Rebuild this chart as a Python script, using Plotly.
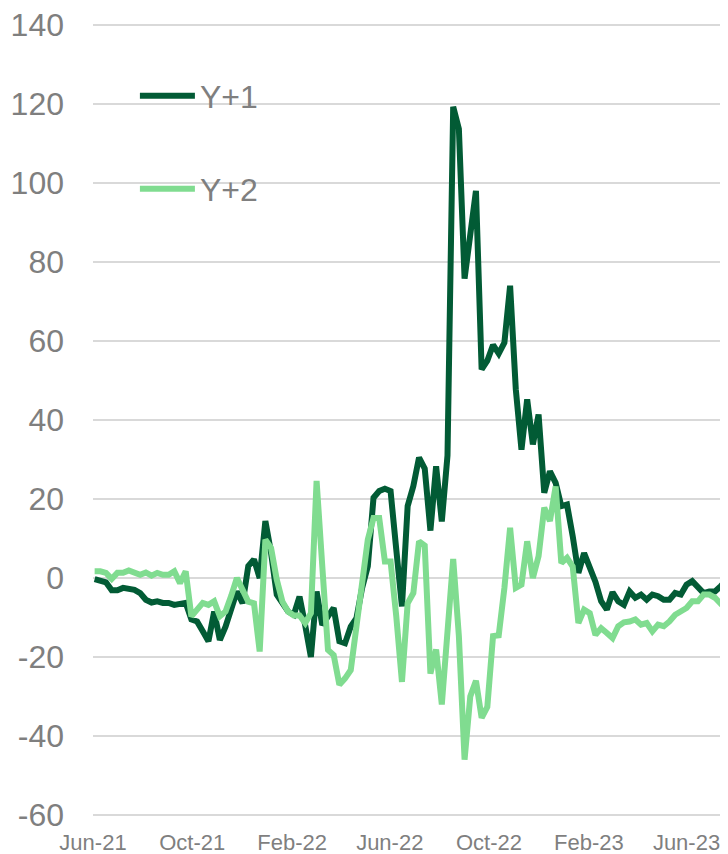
import pandas as pd
import plotly.graph_objects as go

# Weekly values
y_plus_1 = [-0.3, -0.8, -1.1, -3.1, -3.1, -2.5, -2.8, -3.0, -3.8, -5.5,
            -6.2, -5.9, -6.3, -6.3, -6.8, -6.5, -6.3, -10.5, -11.0, -13.5,
            -16.0, -8.5, -15.7, -12.3, -8.0, -3.4, -6.4, 3.0, 4.7, 0.0,
            14.4, 6.4, -4.2, -6.4, -8.5, -9.3, -4.7, -12.0, -20.0, -3.4,
            -11.9, -9.7, -7.6, -16.0, -16.5, -12.3, -10.2, -2.5, 3.0, 20.3,
            22.0, 22.6, 22.0, 7.2, -7.2, 18.2, 23.3, 30.5, 27.7, 12.0,
            28.3, 14.3, 31.0, 119.3, 113.7, 75.8, 87.0, 98.0, 52.8, 55.0,
            59.0, 56.8, 59.6, 74.0, 47.8, 32.5, 45.2, 33.8, 41.4, 21.6,
            27.0, 24.1, 18.2, 18.6, 10.6, 1.3, 6.3, 3.0, -1.0, -5.9,
            -8.0, -3.6, -5.9, -6.8, -3.4, -5.0, -4.2, -5.5, -4.2, -4.6,
            -5.5, -5.5, -3.8, -4.2, -1.7, -0.8, -2.1, -3.8, -3.4, -3.4,
            -2.1, -0.4]

y_plus_2 = [1.7, 1.7, 1.3, -0.2, 1.3, 1.3, 1.9, 1.3, 0.8, 1.4,
            0.6, 1.3, 0.8, 0.8, 1.7, -1.3, 1.7, -9.7, -8.0, -6.3,
            -6.8, -5.9, -9.7, -8.5, -4.5, 0.0, -3.0, -6.0, -6.4, -18.6,
            9.7, 7.6, -0.4, -6.0, -8.5, -9.5, -9.5, -11.4, -8.9, 24.6,
            3.0, -18.2, -19.5, -27.0, -25.4, -23.3, -12.3, -2.0, 9.7, 15.2,
            15.2, 4.2, 4.2, -9.7, -26.3, -6.4, -3.8, 9.3, 8.2, -24.2,
            -18.1, -32.0, -14.0, 4.8, -14.7, -46.0, -30.0, -26.0, -35.4, -32.6,
            -14.7, -14.5, -2.5, 12.7, -2.5, -1.7, 9.3, 0.0, 5.5, 17.8,
            14.4, 23.2, 3.8, 5.1, 2.9, -11.4, -8.0, -8.9, -14.4, -12.7,
            -13.9, -15.2, -12.2, -11.2, -11.0, -10.5, -11.8, -11.4, -13.5, -11.8,
            -12.2, -11.0, -9.3, -8.4, -7.6, -5.9, -5.9, -4.2, -4.2, -5.0,
            -6.5, -5.5]

dates = pd.date_range(start="2021-06-03", periods=len(y_plus_1), freq="7D")

tick_dates = ["2021-06-01", "2021-10-01", "2022-02-01", "2022-06-01",
              "2022-10-01", "2023-02-01", "2023-06-01"]
tick_labels = ["Jun-21", "Oct-21", "Feb-22", "Jun-22", "Oct-22", "Feb-23", "Jun-23"]

y_ticks = [-60, -40, -20, 0, 20, 40, 60, 80, 100, 120, 140]
y_tick_labels = [str(v) for v in y_ticks]

DARK = "#025B35"
LIGHT = "#80DC90"
GRAY = "#7F7F7F"
FONT = "Liberation Sans, Arial, sans-serif"

fig = go.Figure()
fig.add_trace(go.Scatter(x=dates, y=y_plus_1, mode="lines", name="Y+1",
                         line=dict(color=DARK, width=6), legend="legend",
                         showlegend=True))
fig.add_trace(go.Scatter(x=dates, y=y_plus_2, mode="lines", name="Y+2",
                         line=dict(color=LIGHT, width=6), legend="legend2",
                         showlegend=True))

legend_common = dict(font=dict(family=FONT, size=32, color=GRAY),
                     bgcolor="rgba(0,0,0,0)", itemwidth=55,
                     xanchor="left", yanchor="middle", visible=True)

# page body has an 8px default margin, compensated in the figure margins;
# y range padded by 0.5 so the end gridlines (-60, 140) are drawn
fig.update_layout(
    width=728, height=854,
    margin=dict(l=85, r=8, t=15, b=45),
    paper_bgcolor="white", plot_bgcolor="white",
    showlegend=True,
    font=dict(family=FONT, color=GRAY),
    legend=dict(x=0.066, y=0.908, **legend_common),
    legend2=dict(x=0.066, y=0.791, **legend_common),
    xaxis=dict(type="date", range=["2021-06-01", "2023-07-22"],
               tickvals=tick_dates, ticktext=tick_labels,
               tickfont=dict(size=22, color=GRAY, family=FONT),
               showgrid=False, showline=False, zeroline=False,
               ticks="", automargin=False, ticklabelstandoff=10),
    yaxis=dict(range=[-60.5, 140.5], tickvals=y_ticks, ticktext=y_tick_labels,
               tickfont=dict(size=32, color=GRAY, family=FONT),
               showgrid=True, gridcolor="#D9D9D9", gridwidth=1.5,
               zeroline=False, showline=False, ticks="",
               ticklabelstandoff=28, automargin=False,
               ticklabeloverflow="allow"),
)

fig.write_html("out.html")
